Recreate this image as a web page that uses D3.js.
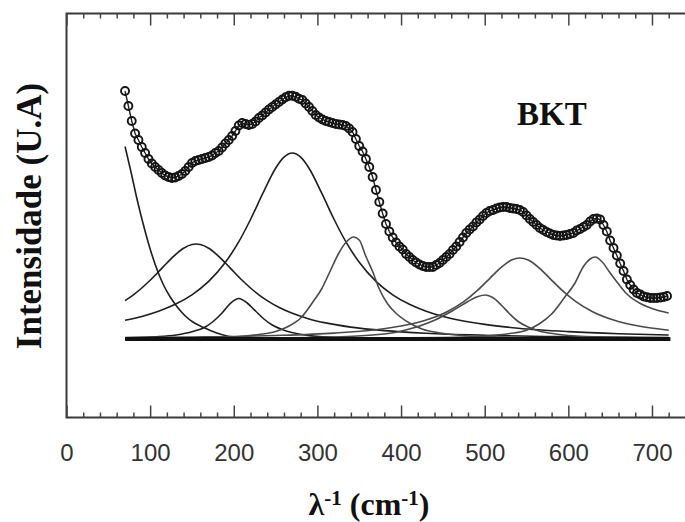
<!DOCTYPE html>
<html>
<head>
<meta charset="utf-8">
<script src="https://cdn.jsdelivr.net/npm/d3@7"></script>
<style>
  html, body { margin: 0; padding: 0; background: #fff; }
  svg { display: block; }
</style>
</head>
<body>
<svg id="chart" width="685" height="522"></svg>
<script>
// Raman shift grid of the measured spectrum (cm-1), one point every 4 cm-1
const ramanShift = d3.range(70, 719, 4);

// Measured intensity (a.u.) at each Raman shift
const measured = [
  248, 233, 218, 205.5, 199, 192, 186, 180, 175.5, 172,
  169, 166, 163.5, 162, 161, 161.5, 163, 165, 168, 172,
  176, 178, 179, 180, 181, 182, 183.5, 186, 188, 191.5,
  195.5, 199, 203, 208, 213.5, 216, 215, 214, 215, 217.5,
  221, 223.5, 226.5, 229.5, 232, 234.5, 237, 239.5, 241.7, 243.2,
  243.2, 242.2, 240.2, 239, 235.5, 232, 228, 224, 221.5, 219.5,
  218, 217, 216, 215, 214.5, 214, 213, 210.5, 207, 200,
  193, 187.5, 180, 172, 162, 149, 137, 125.5, 115, 107.5,
  101.5, 96.5, 92.5, 89.5, 85, 82, 79, 76.5, 74.5, 73,
  72, 72, 72, 74, 76, 79, 82, 85, 89, 92.5,
  97, 101.5, 106, 109.5, 112.5, 116.5, 119.5, 123, 126, 128,
  129, 130.5, 131.5, 132, 132, 131, 130.5, 130, 129, 127,
  123.5, 120, 117, 114, 111, 109, 107, 105.5, 104, 103.5,
  103, 103.5, 104, 105, 106, 108.5, 110, 112, 114, 117.5,
  120, 120.5, 119.5, 114, 107.5, 98.5, 91, 83.5, 75.5, 68,
  59.5, 54, 49.5, 46, 44.5, 42.5, 41.8, 41, 41, 41,
  41.5, 42, 43
];

// Fitted components, [Raman shift, intensity]
const bandDecay = [
  [70, 192.5], [77, 167.5], [84, 141], [92, 114], [100, 90], [108, 70], [116, 54],
  [124, 42], [132, 32.5], [142, 23], [152, 16.5], [164, 11.5], [178, 6.5], [192, 3],
  [210, 1.5], [240, 0.7], [300, 0.2], [400, 0], [720, 0]
];
const band155 = [
  [70, 38.4], [80, 44.2], [90, 51], [100, 58.7], [110, 67.2], [120, 76], [130, 84.2],
  [140, 90.8], [150, 94.5], [155, 95], [160, 94.5], [170, 90.8], [180, 84.2], [190, 76],
  [200, 67.2], [210, 58.7], [220, 51], [230, 44.2], [240, 38.4], [255, 31.2], [270, 25.7],
  [290, 20.1], [310, 16.1], [340, 11.9], [380, 8.4], [430, 5.8], [500, 3.8], [600, 2.3],
  [720, 1.4]
];
const band206 = [
  [70, 1.2], [106, 2.2], [131, 4], [151, 7.5], [166, 12], [176, 18], [186, 26],
  [196, 35.7], [206, 40.5], [216, 36], [226, 28], [236, 20], [246, 14], [261, 8.5],
  [281, 4.5], [306, 2.2], [356, 1], [450, 0.4], [720, 0.1]
];
const band270 = [
  [70, 18.8], [90, 22.6], [110, 27.8], [130, 34.7], [150, 44.2], [170, 57.6], [190, 76.7],
  [205, 95.8], [220, 119.5], [235, 146.1], [250, 170.8], [260, 181.9], [270, 186],
  [280, 181.9], [290, 170.8], [305, 146.1], [320, 119.5], [335, 95.8], [350, 76.7],
  [370, 57.6], [390, 44.2], [410, 34.7], [430, 27.8], [450, 22.6], [470, 18.8],
  [500, 14.6], [540, 10.8], [600, 7.4], [660, 5.3], [720, 4]
];
const band343 = [
  [70, 0.3], [150, 0.8], [200, 2], [230, 4.5], [250, 7.5], [265, 12.5], [280, 21],
  [295, 37.5], [305, 50], [315, 67.5], [325, 85], [335, 97.5], [343, 102], [350, 99],
  [358, 82.5], [366, 67.5], [374, 50], [384, 35], [395, 25], [410, 16], [425, 10],
  [445, 6.2], [470, 3.8], [520, 2], [600, 1], [720, 0.5]
];
const band501 = [
  [70, 0.2], [300, 1.5], [380, 5], [410, 10], [440, 18.8], [460, 27.5], [480, 37.5],
  [492, 42.5], [501, 44], [510, 41.2], [520, 33.8], [530, 25], [540, 17.5], [552, 12],
  [565, 8], [585, 5], [620, 2.5], [680, 1.2], [720, 0.8]
];
const band542 = [
  [70, 1.4], [150, 2], [250, 3.5], [320, 5.9], [370, 9.3], [400, 13], [430, 19],
  [455, 27.3], [475, 37.4], [492, 49.1], [507, 61.4], [520, 71.9], [532, 78.9],
  [542, 81], [552, 78.9], [564, 71.9], [577, 61.4], [592, 49.1], [609, 37.4],
  [629, 27.3], [654, 19], [684, 13], [720, 8.8]
];
const band632 = [
  [70, 0], [300, 0.5], [450, 1.5], [500, 3], [530, 5.5], [550, 8.75], [565, 15],
  [580, 25], [595, 41], [608, 56], [618, 72.5], [626, 80], [632, 82], [640, 77.5],
  [650, 66], [660, 55], [670, 45], [685, 36], [700, 30.5], [720, 26]
];

const baselineRange = [70, 722];

// Axis ticks and labels
const majorTicks = [0, 100, 200, 300, 400, 500, 600, 700];
const tickLabels = ["0", "100", "200", "300", "400", "500", "600", "700"];
const minorTicks = [20, 40, 60, 80, 120, 140, 160, 180, 220, 240, 260, 280, 320, 340, 360, 380,
  420, 440, 460, 480, 520, 540, 560, 580, 620, 640, 660, 680, 720, 740];

const svg = d3.select("#chart");

const x = d3.scaleLinear().domain([0, 750]).range([66.5, 693.8]);
const y = d3.scaleLinear().domain([-78.5, 325.5]).range([417.5, 13.5]);

const serif = "'Liberation Serif', 'Times New Roman', Times, serif";
const sans = "'Liberation Sans', Arial, Helvetica, sans-serif";

// Frame (left, top, bottom)
svg.append("path")
  .attr("d", `M${x(750)},${y(325.5)}H${x(0)}V${y(-78.5)}H${x(750)}`)
  .attr("fill", "none")
  .attr("stroke", "#3a3a3a")
  .attr("stroke-width", 2);

function styleAxis(g) {
  g.select(".domain").remove();
  g.selectAll(".tick line").attr("stroke", "#444").attr("stroke-width", 1.5);
}

// Bottom axis: major ticks with labels, minor ticks, both pointing inward
svg.append("g")
  .attr("transform", `translate(0,${y(-78.5)})`)
  .call(d3.axisBottom(x).tickValues(majorTicks).tickSizeInner(-12).tickSizeOuter(0)
    .tickPadding(26).tickFormat((d, i) => tickLabels[i]))
  .call(styleAxis)
  .call(g => g.selectAll(".tick text")
    .attr("font-family", sans).attr("font-size", 24).attr("fill", "#333"));

svg.append("g")
  .attr("transform", `translate(0,${y(-78.5)})`)
  .call(d3.axisBottom(x).tickValues(minorTicks).tickSizeInner(-5).tickSizeOuter(0).tickFormat(""))
  .call(styleAxis);

// Top axis: ticks only
svg.append("g")
  .attr("transform", `translate(0,${y(325.5)})`)
  .call(d3.axisTop(x).tickValues(majorTicks).tickSizeInner(-12).tickSizeOuter(0).tickFormat(""))
  .call(styleAxis);

svg.append("g")
  .attr("transform", `translate(0,${y(325.5)})`)
  .call(d3.axisTop(x).tickValues(minorTicks).tickSizeInner(-5).tickSizeOuter(0).tickFormat(""))
  .call(styleAxis);

// Fitted component curves
const bandLine = d3.line()
  .x(d => x(d[0]))
  .y(d => y(d[1]))
  .curve(d3.curveMonotoneX);

const bands = [
  { data: bandDecay, color: "#1e1e1e" },
  { data: band155, color: "#1e1e1e" },
  { data: band206, color: "#1e1e1e" },
  { data: band270, color: "#1e1e1e" },
  { data: band343, color: "#4a4a4a" },
  { data: band501, color: "#4a4a4a" },
  { data: band542, color: "#4a4a4a" },
  { data: band632, color: "#4a4a4a" }
];

svg.append("g")
  .selectAll("path")
  .data(bands)
  .join("path")
  .attr("d", d => bandLine(d.data))
  .attr("fill", "none")
  .attr("stroke", d => d.color)
  .attr("stroke-width", 1.6);

// Baseline
svg.append("line")
  .attr("x1", x(baselineRange[0]))
  .attr("x2", x(baselineRange[1]))
  .attr("y1", y(0))
  .attr("y2", y(0))
  .attr("stroke", "#111")
  .attr("stroke-width", 4);

// Measured spectrum: connecting line and open circles
const spectrum = ramanShift.map((s, i) => [s, measured[i]]);

svg.append("path")
  .attr("d", d3.line().x(d => x(d[0])).y(d => y(d[1]))(spectrum))
  .attr("fill", "none")
  .attr("stroke", "#222")
  .attr("stroke-width", 1.4);

svg.append("g")
  .selectAll("circle")
  .data(spectrum)
  .join("circle")
  .attr("cx", d => x(d[0]))
  .attr("cy", d => y(d[1]))
  .attr("r", 4)
  .attr("fill", "none")
  .attr("stroke", "#151515")
  .attr("stroke-width", 1.9);

// Sample label
svg.append("text")
  .attr("x", 517)
  .attr("y", 125)
  .attr("font-family", serif)
  .attr("font-weight", "bold")
  .attr("font-size", 33)
  .attr("fill", "#111")
  .text("BKT");

// Y axis title
svg.append("text")
  .attr("transform", "translate(41,216) rotate(-90)")
  .attr("text-anchor", "middle")
  .attr("font-family", serif)
  .attr("font-weight", "bold")
  .attr("font-size", 35)
  .attr("fill", "#111")
  .text("Intensidade (U.A)");

// X axis title with superscripts
const xt = svg.append("text")
  .attr("x", 369)
  .attr("y", 515)
  .attr("text-anchor", "middle")
  .attr("font-family", serif)
  .attr("font-weight", "bold")
  .attr("font-size", 32)
  .attr("fill", "#111");
xt.append("tspan").text("λ");
xt.append("tspan").attr("font-size", 21).attr("dy", -10).text("-1");
xt.append("tspan").attr("dy", 10).text(" (cm");
xt.append("tspan").attr("font-size", 21).attr("dy", -10).text("-1");
xt.append("tspan").attr("dy", 10).text(")");
</script>
</body>
</html>
